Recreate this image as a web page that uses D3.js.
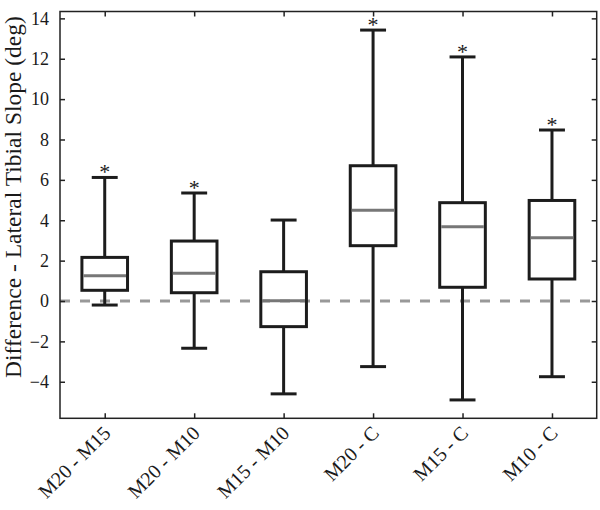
<!DOCTYPE html>
<html>
<head>
<meta charset="utf-8">
<script src="https://cdn.jsdelivr.net/npm/d3@7"></script>
<style>
  html, body { margin: 0; padding: 0; background: #fff; }
  svg { display: block; }
  text { font-family: "Liberation Serif", "Times New Roman", serif; fill: #1a1a1a; }
</style>
</head>
<body>
<svg id="chart" width="600" height="510"></svg>
<script>
// ---- data ----
const categories = ["M20 - M15", "M20 - M10", "M15 - M10", "M20 - C", "M15 - C", "M10 - C"];
const whiskerLow  = [-0.20, -2.34, -4.60, -3.25, -4.90, -3.75];
const q1          = [ 0.53,  0.41, -1.27,  2.74,  0.68,  1.09];
const median      = [ 1.25,  1.37,  0.01,  4.50,  3.68,  3.13];
const q3          = [ 2.16,  2.97,  1.45,  6.70,  4.87,  4.98];
const whiskerHigh = [ 6.12,  5.35,  4.01, 13.42, 12.09,  8.47];
const significant = [true, true, false, true, true, true];
const yTicks = [-4, -2, 0, 2, 4, 6, 8, 10, 12, 14];
const yLabel = "Difference - Lateral Tibial Slope (deg)";

// ---- layout ----
const svg = d3.select("#chart");
const mLeft = 60, mRight = 596.7, mTop = 11.5, mBottom = 418.3;

const x = d3.scaleLinear().domain([0.5, 6.5]).range([mLeft, mRight]);
const y = d3.scaleLinear().domain([-5.81, 14.34]).range([mBottom, mTop]);

const dark = "#1c1c1c";
const boxHalf = 0.255, capHalf = 0.145;

// zero reference line
svg.append("line")
  .attr("x1", mLeft).attr("x2", mRight)
  .attr("y1", y(0)).attr("y2", y(0))
  .attr("stroke", "#999").attr("stroke-width", 3)
  .attr("stroke-dasharray", "10,10");

const data = categories.map((c, i) => ({
  c, i: i + 1, lo: whiskerLow[i], q1: q1[i], med: median[i], q3: q3[i], hi: whiskerHigh[i], sig: significant[i]
}));

const g = svg.append("g").selectAll("g").data(data).join("g");

// whiskers
g.append("line")
  .attr("x1", d => x(d.i)).attr("x2", d => x(d.i))
  .attr("y1", d => y(d.q3)).attr("y2", d => y(d.hi))
  .attr("stroke", dark).attr("stroke-width", 3);
g.append("line")
  .attr("x1", d => x(d.i)).attr("x2", d => x(d.i))
  .attr("y1", d => y(d.q1)).attr("y2", d => y(d.lo))
  .attr("stroke", dark).attr("stroke-width", 3);
// caps
g.append("line")
  .attr("x1", d => x(d.i - capHalf)).attr("x2", d => x(d.i + capHalf))
  .attr("y1", d => y(d.hi)).attr("y2", d => y(d.hi))
  .attr("stroke", dark).attr("stroke-width", 3);
g.append("line")
  .attr("x1", d => x(d.i - capHalf)).attr("x2", d => x(d.i + capHalf))
  .attr("y1", d => y(d.lo)).attr("y2", d => y(d.lo))
  .attr("stroke", dark).attr("stroke-width", 3);
// boxes
g.append("rect")
  .attr("x", d => x(d.i - boxHalf))
  .attr("width", d => x(d.i + boxHalf) - x(d.i - boxHalf))
  .attr("y", d => y(d.q3))
  .attr("height", d => y(d.q1) - y(d.q3))
  .attr("fill", "none").attr("stroke", dark).attr("stroke-width", 3);
// medians
g.append("line")
  .attr("x1", d => x(d.i - boxHalf) + 1.5).attr("x2", d => x(d.i + boxHalf) - 1.5)
  .attr("y1", d => y(d.med)).attr("y2", d => y(d.med))
  .attr("stroke", "#777").attr("stroke-width", 3);
// significance stars
g.filter(d => d.sig).append("text")
  .attr("x", d => x(d.i)).attr("y", d => y(d.hi) + 2)
  .attr("text-anchor", "middle")
  .attr("font-size", 22)
  .attr("fill", "#333")
  .text("*");

// ---- axes (box with inward ticks) ----
const axisColor = "#222";
const yAxisL = d3.axisLeft(y).tickValues(yTicks).tickSizeInner(-5).tickSizeOuter(0).tickPadding(11);
const yAxisR = d3.axisRight(y).tickValues(yTicks).tickSizeInner(-5).tickSizeOuter(0).tickFormat("");
const xAxisB = d3.axisBottom(x).tickValues(d3.range(1, 7)).tickSizeInner(-5).tickSizeOuter(0).tickFormat("");
const xAxisT = d3.axisTop(x).tickValues(d3.range(1, 7)).tickSizeInner(-5).tickSizeOuter(0).tickFormat("");

function styleAxis(sel) {
  sel.select(".domain").remove();
  sel.selectAll(".tick line").attr("stroke", axisColor).attr("stroke-width", 1.5);
  sel.selectAll("text").attr("font-size", 18).attr("fill", "#1a1a1a");
}

svg.append("g").attr("transform", `translate(${mLeft},0)`).call(yAxisL).call(styleAxis);
svg.append("g").attr("transform", `translate(${mRight},0)`).call(yAxisR).call(styleAxis);
svg.append("g").attr("transform", `translate(0,${mBottom})`).call(xAxisB).call(styleAxis);
svg.append("g").attr("transform", `translate(0,${mTop})`).call(xAxisT).call(styleAxis);

// frame
svg.append("rect")
  .attr("x", mLeft).attr("y", mTop)
  .attr("width", mRight - mLeft).attr("height", mBottom - mTop)
  .attr("fill", "none").attr("stroke", axisColor).attr("stroke-width", 1.5);

// rotated category labels
svg.append("g").selectAll("text").data(data).join("text")
  .attr("transform", d => `translate(${x(d.i) + 7},${mBottom + 16}) rotate(-45)`)
  .attr("text-anchor", "end")
  .attr("font-size", 20)
  .text(d => d.c);

// y label
svg.append("text")
  .attr("transform", `translate(21,197) rotate(-90)`)
  .attr("text-anchor", "middle")
  .attr("font-size", 23.5)
  .text(yLabel);
</script>
</body>
</html>
